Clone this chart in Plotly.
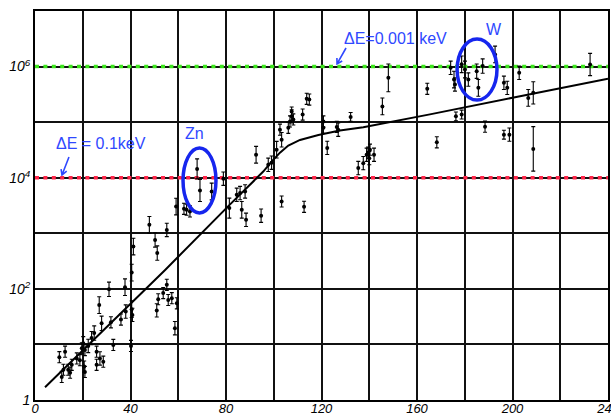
import plotly.graph_objects as go

# Measured points: position on the horizontal scale, value, and half-width of the error bar (decades)
x_vals = [
    40.5, 31.0, 37.7, 26.9, 27.9, 24.8, 23.7, 31.8, 36.0, 38.0, 40.5, 40.8,
    32.8, 40.2, 20.2, 19.6, 20.9, 22.3, 25.8, 27.2, 28.6, 25.8, 20.6, 20.9,
    17.5, 15.4, 13.9, 11.9, 11.2, 12.6, 10.2, 18.8, 14.7, 41.2,
    47.9, 50.3, 51.2, 55.2, 59.1, 62.4, 63.5, 64.9, 67.9, 69.1, 74.0,
    51.0, 51.6, 53.7, 55.2, 55.8, 57.3, 59.4, 58.6,
    78.9, 81.4, 84.5, 85.9, 88.0, 86.6, 88.4, 94.7, 92.6, 97.7, 99.1, 101.2,
    103.3, 102.6, 103.3, 112.7, 106.1, 106.8, 107.5, 108.2, 107.5, 112.1,
    113.8, 114.9,
    120.8, 120.8, 122.4, 126.4, 127.0, 132.2, 135.4, 137.5, 138.9, 140.0,
    140.3, 142.0, 139.5, 145.5, 148.0,
    164.3, 168.3, 174.1, 175.5, 175.9, 176.3, 178.7, 178.7, 180.1, 181.5,
    185.0, 185.7, 187.5, 188.5, 192.7, 196.4, 197.8, 196.4, 198.7, 202.8,
    206.6, 208.7, 208.7, 232.5,
]
y_vals = [
    196, 98, 107, 51, 24, 16, 13, 25, 28, 39, 43, 34,
    9.8, 9.4, 10.5, 8.5, 7.9, 9.4, 7.4, 5.6, 4.9, 4.3, 4.0, 3.2,
    5.6, 4.3, 3.5, 3.5, 2.6, 7.4, 5.9, 5.2, 3.1, 577,
    1420, 760, 440, 1150, 3030, 2760, 2650, 2470, 14400, 5900, 5650,
    41, 65, 84, 118, 63, 68, 55, 19.6,
    9600, 2840, 4930, 5300, 5650, 2650, 1750, 2070, 25900, 17100, 18600, 31900,
    48300, 73200, 3730, 3000, 79100, 103000, 127000, 112000, 156000, 137000,
    263000, 255000,
    103000, 79000, 34400, 81900, 73000, 124000, 14900, 18300, 25900, 22500,
    31900, 25900, 28200, 192000, 627000,
    398000, 43300, 950000, 584000, 476000, 127000, 137000, 1100000, 886000, 584000,
    826000, 414000, 1020000, 83000, 1650000, 510000, 414000, 59600, 59600, 773000,
    273000, 337000, 33000, 1090000,
]
err_dex = [
    0.15, 0.13, 0.15, 0.15, 0.13, 0.13, 0.12, 0.10, 0.10, 0.12, 0.15, 0.12,
    0.10, 0.10, 0.12, 0.10, 0.10, 0.12, 0.10, 0.12, 0.10, 0.10, 0.10, 0.10,
    0.10, 0.10, 0.10, 0.10, 0.10, 0.10, 0.10, 0.10, 0.10, 0.15,
    0.15, 0.13, 0.13, 0.12, 0.15, 0.10, 0.10, 0.10, 0.18, 0.20, 0.15,
    0.12, 0.10, 0.10, 0.10, 0.10, 0.10, 0.10, 0.12,
    0.12, 0.18, 0.12, 0.12, 0.12, 0.15, 0.12, 0.12, 0.15, 0.12, 0.12, 0.15,
    0.13, 0.10, 0.10, 0.10, 0.10, 0.10, 0.12, 0.10, 0.08, 0.10,
    0.10, 0.10,
    0.10, 0.10, 0.12, 0.10, 0.12, 0.08, 0.12, 0.12, 0.12, 0.12,
    0.10, 0.12, 0.10, 0.15, 0.25,
    0.10, 0.10, 0.12, 0.15, 0.12, 0.08, 0.08, 0.15, 0.15, 0.12,
    0.13, 0.15, 0.13, 0.10, 0.15, 0.12, 0.12, 0.08, 0.12, 0.12,
    0.15, 0.20, 0.40, 0.20,
]

# Trend curve through the measurements
curve_x = [4.2, 30, 54.5, 81.7, 95.6, 99.1, 102.6, 106.1, 111.0, 118.7,
           127.7, 137.5, 148.7, 165.4, 200, 240]
curve_y = [1.70, 20.9, 219, 3311, 12900, 19500, 28200, 38000, 47900, 58900,
           70800, 81300, 100000, 138000, 275000, 603000]

# Energy-resolution thresholds
levels_x = [0, 240]
level_fine = 1e6     # ΔE = 0.001 keV
level_coarse = 1e4   # ΔE = 0.1 keV

x_ticks = [0, 40, 80, 120, 160, 200, 240]
x_tick_text = ["0", "40", "80", "120", "160", "200", "240"]
x_minor = [20, 60, 100, 140, 180, 220]
y_ticks = [1, 100, 1e4, 1e6]
y_tick_text = ["1", "10<sup>2</sup>", "10<sup>4</sup>", "10<sup>6</sup>"]
y_minor = [10, 1e3, 1e5]

err_up = [y * (10 ** e - 1) for y, e in zip(y_vals, err_dex)]
err_dn = [y * (1 - 10 ** -e) for y, e in zip(y_vals, err_dex)]

BLUE_TXT = "#2f48ff"
BLUE_RING = "#1626ee"

# plot area in pixels (left, right, top, bottom)
PL, PR, PT, PB = 35, 608, 11, 400

fig = go.Figure()

fig.add_trace(go.Scatter(
    x=levels_x, y=[level_coarse, level_coarse], mode="lines",
    line=dict(color="#ff2448", width=3.5, dash="4px,4.4px"), hoverinfo="skip",
))
fig.add_trace(go.Scatter(
    x=levels_x, y=[level_fine, level_fine], mode="lines",
    line=dict(color="#3ce61c", width=3.5, dash="4px,4.4px"), hoverinfo="skip",
))

fig.add_trace(go.Scatter(
    x=curve_x, y=curve_y, mode="lines",
    line=dict(color="black", width=2),
))

fig.add_trace(go.Scatter(
    x=x_vals, y=y_vals, mode="markers",
    marker=dict(color="black", size=4),
    error_y=dict(type="data", symmetric=False, array=err_up, arrayminus=err_dn,
                 color="black", thickness=1.1, width=2),
))

tick_font = dict(family="Liberation Sans", size=14, color="black", style="italic")
x_tick_font = dict(family="Liberation Sans", size=13, color="black", style="italic")
grid = dict(showgrid=True, gridcolor="#111111", gridwidth=1.6)

fig.update_xaxes(
    range=[0, 240], tickvals=x_ticks, ticktext=x_tick_text, tickfont=x_tick_font,
    minor=dict(tickvals=x_minor, ticks="", **grid), **grid,
    zeroline=False, showline=True, linecolor="black", linewidth=2, mirror=True,
    ticks="", ticklabeloverflow="allow", ticklabelstandoff=-5, automargin=False,
)
fig.update_yaxes(
    type="log", range=[0, 7], tickvals=y_ticks, ticktext=y_tick_text, tickfont=tick_font,
    minor=dict(tickvals=y_minor, ticks="", **grid), **grid,
    zeroline=False, showline=True, linecolor="black", linewidth=2, mirror=True,
    ticks="", automargin=False,
)

label_font = dict(family="Liberation Sans", size=16, color=BLUE_TXT)
fig.add_annotation(x=150.8, y=6.50, text="ΔE=0.001 keV", showarrow=False, font=label_font)
fig.add_annotation(x=27.6, y=4.61, text="ΔE = 0.1keV", showarrow=False, font=label_font)
fig.add_annotation(x=67.0, y=4.79, text="Zn", showarrow=False, font=label_font)
fig.add_annotation(x=192.3, y=6.67, text="W", showarrow=False, font=label_font)


def to_paper(px, py):
    return (px - PL) / (PR - PL), (PB - py) / (PB - PT)


def arrow_path(tail, head, arm=6.0):
    """Open V-headed pointer from tail to head, given in page pixels."""
    dx, dy = head[0] - tail[0], head[1] - tail[1]
    n = (dx * dx + dy * dy) ** 0.5
    bx, by = -dx / n, -dy / n
    c, s = 0.866, 0.5
    a1 = (head[0] + arm * (bx * c - by * s), head[1] + arm * (bx * s + by * c))
    a2 = (head[0] + arm * (bx * c + by * s), head[1] + arm * (-bx * s + by * c))
    pts = [to_paper(*p) for p in (tail, head, a1, head, a2)]
    return "M{:.4f},{:.4f} L{:.4f},{:.4f} M{:.4f},{:.4f} L{:.4f},{:.4f} L{:.4f},{:.4f}".format(
        pts[0][0], pts[0][1], pts[1][0], pts[1][1],
        pts[2][0], pts[2][1], pts[3][0], pts[3][1], pts[4][0], pts[4][1])


for tail, head in [((346, 48), (337, 64)), ((69, 157), (62, 175))]:
    fig.add_shape(type="path", xref="paper", yref="paper", path=arrow_path(tail, head),
                  line=dict(color=BLUE_TXT, width=1.6))

fig.add_shape(type="circle", xref="x", yref="paper", x0=62.0, x1=75.8, y0=0.481, y1=0.648,
              line=dict(color=BLUE_RING, width=3.5))
fig.add_shape(type="circle", xref="x", yref="paper", x0=176.8, x1=193.5, y0=0.771, y1=0.928,
              line=dict(color=BLUE_RING, width=3.5))

fig.update_layout(
    width=611, height=416, showlegend=False,
    margin=dict(l=PL, r=611 - PR, t=PT, b=416 - PB),
    paper_bgcolor="white", plot_bgcolor="white",
)

fig.write_html("out.html")
